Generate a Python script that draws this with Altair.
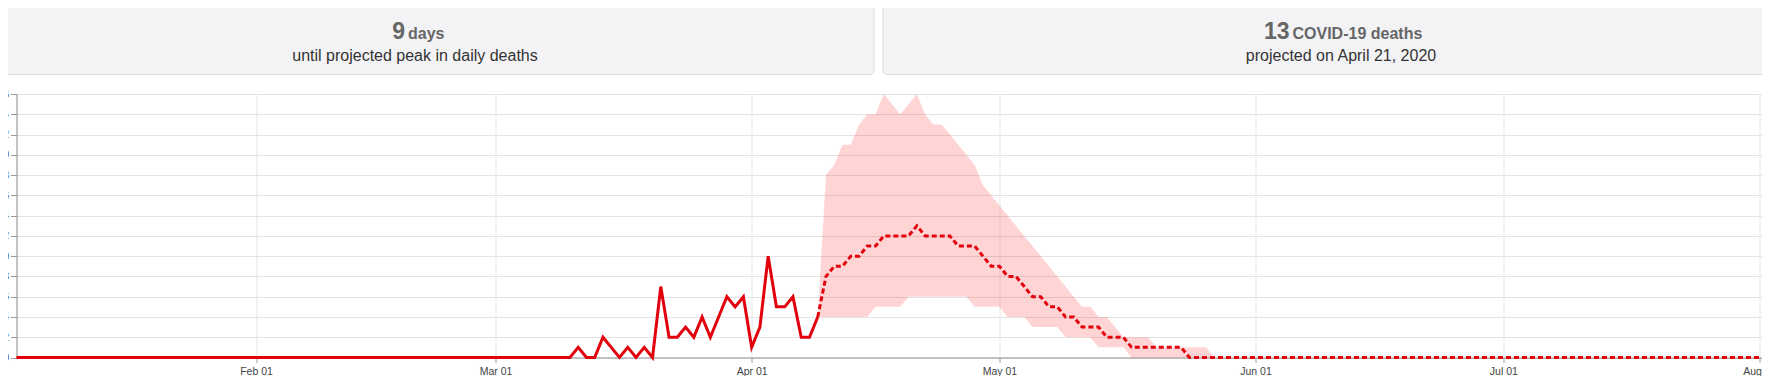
import altair as alt
import pandas as pd

# ---------------- data ----------------
actual_start = "2020-01-03"
# Jan 03 .. Mar 09 all zero, then Mar 10 .. Apr 09
actual_deaths = [0] * 67 + [0, 1, 0, 0, 2, 1, 0, 1, 0, 1, 0, 7, 2, 2, 3, 2, 4, 2, 4, 6,
                            5, 6, 1, 3, 10, 5, 5, 6, 2, 2, 4]

proj_start = "2020-04-09"  # projection runs to 2020-08-04
proj_mean = [4, 8, 9, 9, 10, 10, 11, 11, 12, 12, 12, 12, 13, 12, 12, 12, 12, 11, 11, 11,
             10, 9, 9, 8, 8, 7, 6, 6, 5, 5, 4, 4, 3, 3, 3, 2, 2, 2, 1, 1, 1, 1, 1, 1, 1] + [0] * 73
proj_lower = [4, 4, 4, 4, 4, 4, 4, 5, 5, 5, 5, 6, 6, 6, 6, 6, 6, 6, 6, 5, 5, 5, 5,
              4, 4, 4, 3, 3, 3, 3, 2, 2, 2, 2, 1, 1, 1, 1] + [0] * 80
proj_upper = [4, 18, 19, 21, 21, 23, 24, 24, 26, 25, 24, 25, 26, 24, 23, 23, 22, 21, 20, 19,
              17, 16, 15, 14, 13, 12, 11, 10, 9, 8, 7, 6, 5, 5, 4, 4, 3, 2, 2, 2, 2,
              1, 1, 1, 1, 1, 1, 1] + [0] * 70

x_tick_months = [2, 3, 4, 5, 6, 7, 8]          # first day of each month, 2020
y_ticks = [0, 2, 4, 6, 8, 10, 12, 14, 16, 18, 20, 22, 24, 26]

card1_number = "9"
card1_unit = "days"
card1_caption = "until projected peak in daily deaths"
card2_number = "13"
card2_unit = "COVID-19 deaths"
card2_caption = "projected on April 21, 2020"

# ---------------- tables ----------------
actual_df = pd.DataFrame({
    "date": pd.date_range(actual_start, periods=len(actual_deaths), freq="D").strftime("%Y-%m-%d"),
    "deaths": actual_deaths,
})
proj_df = pd.DataFrame({
    "date": pd.date_range(proj_start, periods=len(proj_mean), freq="D").strftime("%Y-%m-%d"),
    "mean": proj_mean,
    "lower": proj_lower,
    "upper": proj_upper,
})
one = pd.DataFrame({"k": [0]})

# ---------------- styling ----------------
FONT = "Liberation Sans"
RED = "#e2000c"
W, H = 1745.5, 263.5

xscale = alt.Scale(
    type="utc",
    domain=[alt.DateTime(year=2020, month=1, date=3, utc=True),
            alt.DateTime(year=2020, month=8, date=1, hours=7, minutes=36, utc=True)],
)
xaxis = alt.Axis(
    values=[alt.DateTime(year=2020, month=m, date=1, utc=True) for m in x_tick_months],
    labelExpr="utcFormat(datum.value, '%b %d')", title=None,
    grid=True, gridColor="#e6e6e6", gridWidth=1,
    domainColor="#9a9a9a", tickColor="#9a9a9a", tickSize=5,
    labelFont=FONT, labelFontSize=10.5, labelColor="#444444", labelPadding=4,
    labelOverlap=False, labelFlush=False,
)
yscale = alt.Scale(domain=[0, 26], nice=False, zero=True)
yaxis = alt.Axis(
    values=y_ticks, title=None, grid=True, gridColor="#e3e3e3", gridWidth=1,
    domainColor="#9a9a9a", tickColor="#9a9a9a", tickSize=6,
    labelFont=FONT, labelFontSize=10.5, labelColor="#444444", labelPadding=2,
    labelOverlap=False, labelFlush=False,
)

def X():
    return alt.X("date:T", scale=xscale, axis=xaxis)

def Y(field):
    return alt.Y(field, type="quantitative", scale=yscale, axis=yaxis)

band = alt.Chart(proj_df).mark_area(color="#ff0000", opacity=0.17).encode(
    x=X(), y=Y("lower"), y2="upper:Q",
)
mean_line = alt.Chart(proj_df).mark_line(color=RED, strokeWidth=3, strokeDash=[5, 3]).encode(
    x=X(), y=Y("mean")
)
actual_line = alt.Chart(actual_df).mark_line(color=RED, strokeWidth=3).encode(
    x=X(), y=Y("deaths")
)

# ---------------- header cards (pixel layout relative to plot origin) ----------------
def card(x0, x1):
    return alt.Chart(one).mark_rect(
        fill="#f3f3f6", stroke="#dcdcdc", strokeWidth=1, cornerRadius=4
    ).encode(x=alt.value(x0), x2=alt.value(x1), y=alt.value(-93), y2=alt.value(-19.5))

def txt(s, x, y, size, weight, color, align):
    return alt.Chart(one).mark_text(
        text=s, font=FONT, fontSize=size, fontWeight=weight, color=color,
        align=align, baseline="alphabetic"
    ).encode(x=alt.value(x), y=alt.value(y))

cards = [
    card(-60.5, 857.5),
    card(866.5, 1784),
    txt(card1_number, 388.5, -55, 23, "bold", "#666666", "right"),
    txt(card1_unit, 391.5, -55, 16, "bold", "#666666", "left"),
    txt(card1_caption, 398.5, -33, 16, "normal", "#333333", "center"),
    txt(card2_number, 1273, -55, 23, "bold", "#666666", "right"),
    txt(card2_unit, 1276, -55, 16, "bold", "#666666", "left"),
    txt(card2_caption, 1324.5, -33, 16, "normal", "#333333", "center"),
]

chart = alt.layer(band, mean_line, actual_line, *cards).properties(
    width=W, height=H,
    padding={"left": 8.5, "top": 86, "right": 0, "bottom": 18},
    autosize=alt.AutoSizeParams(type="none"),
).configure_view(stroke=None).configure(background="white")

chart.save("out.html", embed_options={"renderer": "svg", "actions": False})
